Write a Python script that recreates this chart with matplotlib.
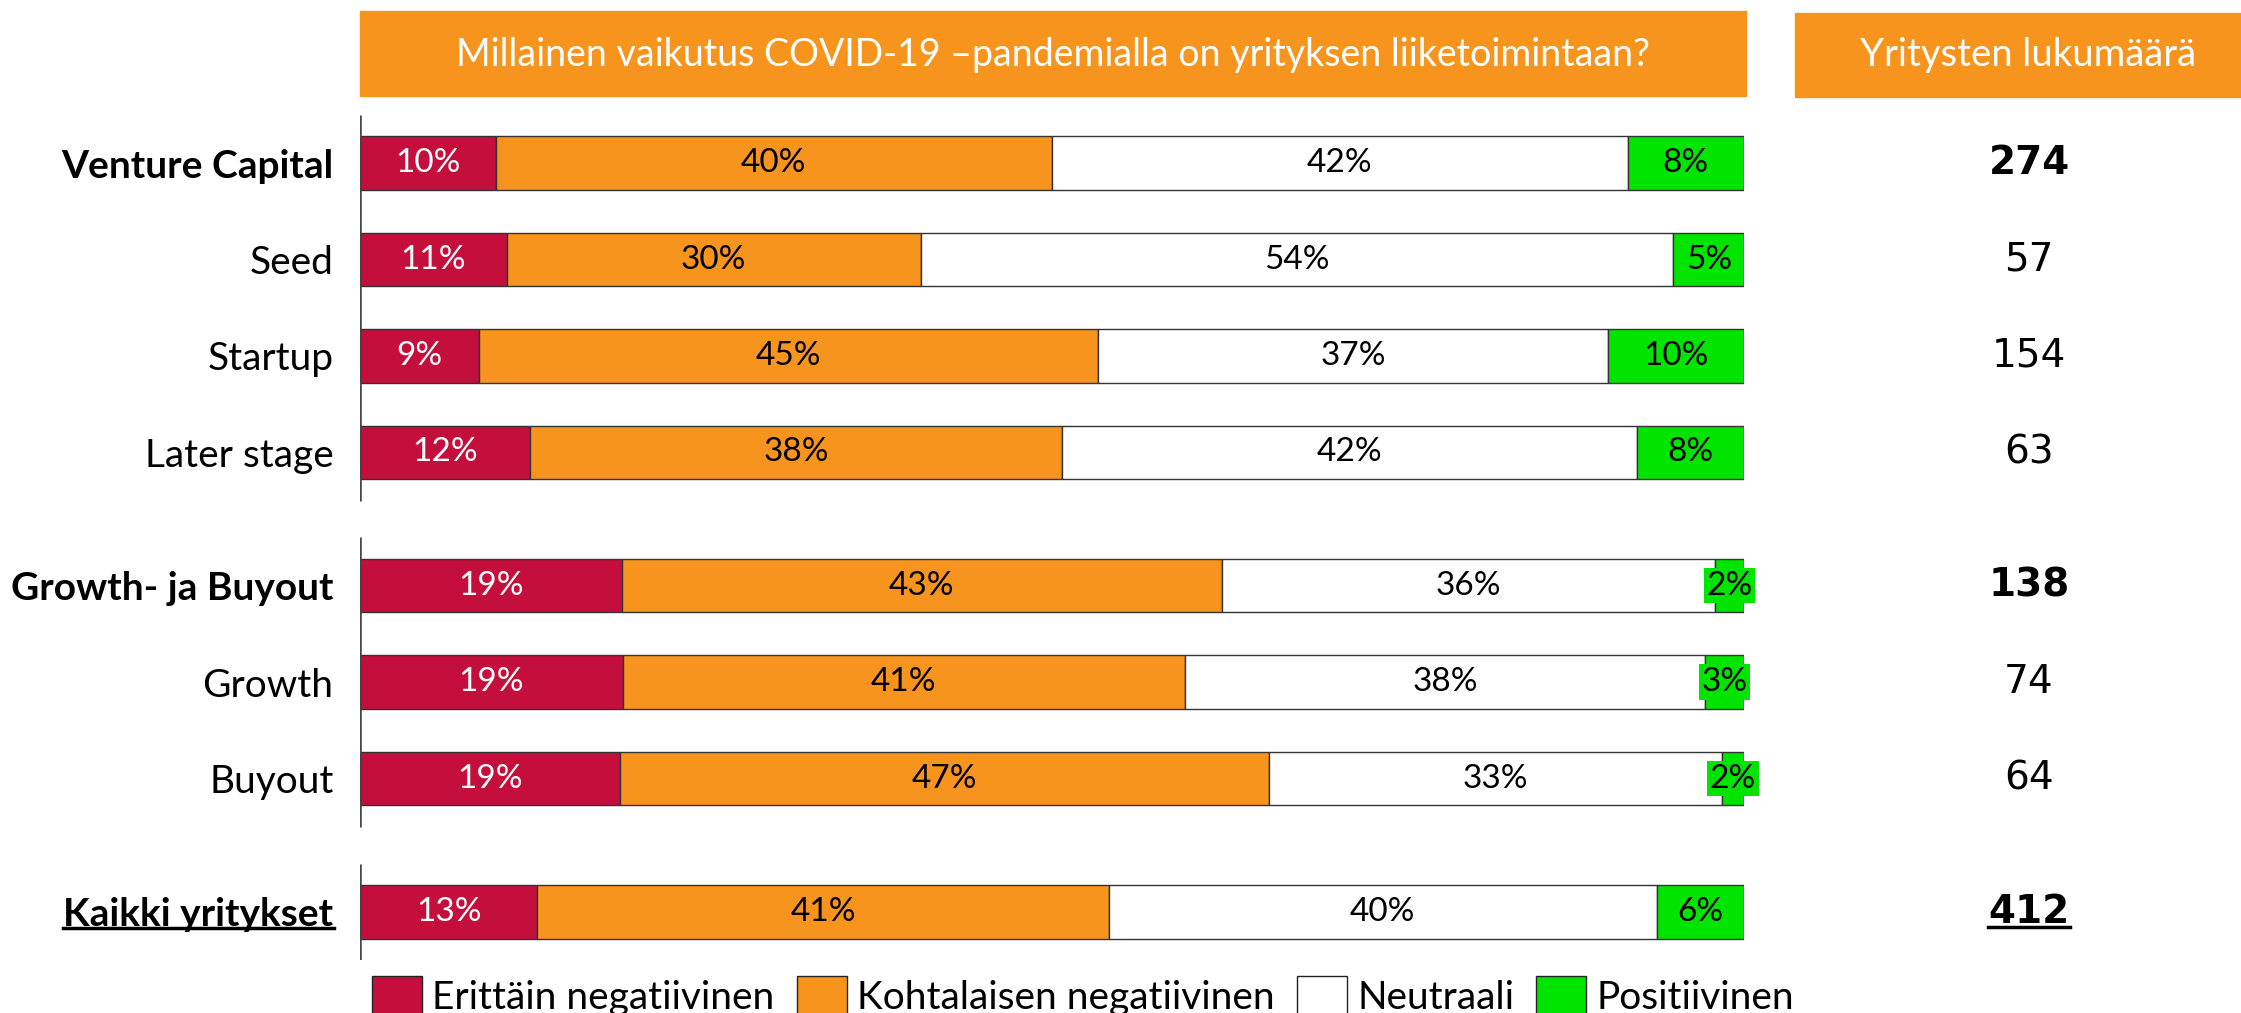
import matplotlib.pyplot as plt
from matplotlib.patches import Patch, Rectangle
from matplotlib.lines import Line2D
import matplotlib.transforms as mtransforms

categories = ["Venture Capital", "Seed", "Startup", "Later stage",
              "Growth- ja Buyout", "Growth", "Buyout", "Kaikki yritykset"]
erittain_neg = [9.8, 10.6, 8.6, 12.3, 18.9, 19.0, 18.8, 12.8]
kohtalainen_neg = [40.2, 29.9, 44.7, 38.4, 43.4, 40.6, 46.9, 41.3]
neutraali = [41.6, 54.4, 36.9, 41.6, 35.6, 37.6, 32.7, 39.6]
positiivinen = [8.4, 5.1, 9.8, 7.7, 2.1, 2.8, 1.6, 6.3]
counts = [274, 57, 154, 63, 138, 74, 64, 412]
bold_rows = ["Venture Capital", "Growth- ja Buyout", "Kaikki yritykset"]

series_names = ["Erittäin negatiivinen", "Kohtalaisen negatiivinen", "Neutraali", "Positiivinen"]
colors = ["#C40F3C", "#F7941D", "#FFFFFF", "#00E400"]
text_colors = ["white", "black", "black", "black"]

title = "Millainen vaikutus COVID-19 \u2013pandemialla on yrityksen liiketoimintaan?"
count_title = "Yritysten lukumäärä"

# row positions: three groups, wider gap between groups
ypos = [0, 1, 2, 3, 4.38, 5.38, 6.38, 7.76]
groups = [(0, 3), (4, 6), (7, 7)]

W, H = 2241, 1013

fig = plt.figure(figsize=(W / 100, H / 100), dpi=100)
ax = fig.add_axes([360 / W, 1 - 960 / H, 1384 / W, 846 / H])

left = [0.0] * len(categories)
for name, vals, c, tc in zip(series_names, [erittain_neg, kohtalainen_neg, neutraali, positiivinen],
                             colors, text_colors):
    bars = ax.barh(ypos, vals, left=left, height=0.555, color=c,
                   edgecolor="#333333", linewidth=1, label=name)
    for rect, v in zip(bars, vals):
        kw = {}
        if v < 4:
            kw["bbox"] = dict(boxstyle="square,pad=0.08", fc=c, ec="none")
        ax.text(rect.get_x() + rect.get_width() / 2, rect.get_y() + rect.get_height() / 2,
                f"{v:.0f}%", ha="center", va="center", color=tc,
                fontsize=24, family="Lato", **kw)
    left = [l + v for l, v in zip(left, vals)]

ax.set_xlim(0, 100)
ax.set_ylim(8.26, -0.508)
for s in ax.spines.values():
    s.set_visible(False)
ax.set_xticks([])
ax.set_yticks(ypos)
ax.set_yticklabels(categories, fontsize=28, family="Lato")
ax.tick_params(axis="y", length=0, pad=19)
for lab in ax.get_yticklabels():
    if lab.get_text() in bold_rows:
        lab.set_fontweight("bold")

for g0, g1 in groups:
    ax.vlines(0, ypos[g0] - 0.5, ypos[g1] + 0.5, color="#444444", lw=1.8)

# counts column
trans = mtransforms.blended_transform_factory(fig.transFigure, ax.transData)
count_texts = []
for y, n, cat in zip(ypos, counts, categories):
    t = ax.text(2029 / W, y, str(n), transform=trans, ha="center", va="center",
                fontsize=28, family="DejaVu Sans",
                fontweight="bold" if cat in bold_rows else "normal")
    count_texts.append(t)

# header boxes
fig.patches.append(Rectangle((360 / W, 1 - 96 / H), 1386 / W, 85 / H,
                             transform=fig.transFigure, color="#F7941D"))
fig.patches.append(Rectangle((1795 / W, 1 - 97 / H), 460 / W, 84 / H,
                             transform=fig.transFigure, color="#F7941D"))
fig.text(1053 / W, 1 - 55 / H, title, ha="center", va="center", color="white",
         fontsize=27, family="Lato")
fig.text(2028 / W, 1 - 55 / H, count_title, ha="center", va="center", color="white",
         fontsize=27.5, family="Lato")

handles = [Patch(facecolor=c, edgecolor="#222222", lw=1) for c in colors]
fig.legend(handles, series_names, loc="upper left", bbox_to_anchor=(372 / W, 1 - 976 / H),
           ncol=4, frameon=False, prop=dict(family="Lato", size=28),
           handlelength=1.29, handleheight=1.16, handletextpad=0.26,
           columnspacing=0.57, borderpad=0, borderaxespad=0)

# underline "Kaikki yritykset" and its count
fig.canvas.draw()
r = fig.canvas.get_renderer()
for art in [ax.get_yticklabels()[-1], count_texts[-1]]:
    bb = art.get_window_extent(r)
    fig.add_artist(Line2D([bb.x0, bb.x1], [bb.y0 + 4, bb.y0 + 4], color="black",
                          lw=2.5, transform=None))

fig.savefig("out.png", dpi=100)
